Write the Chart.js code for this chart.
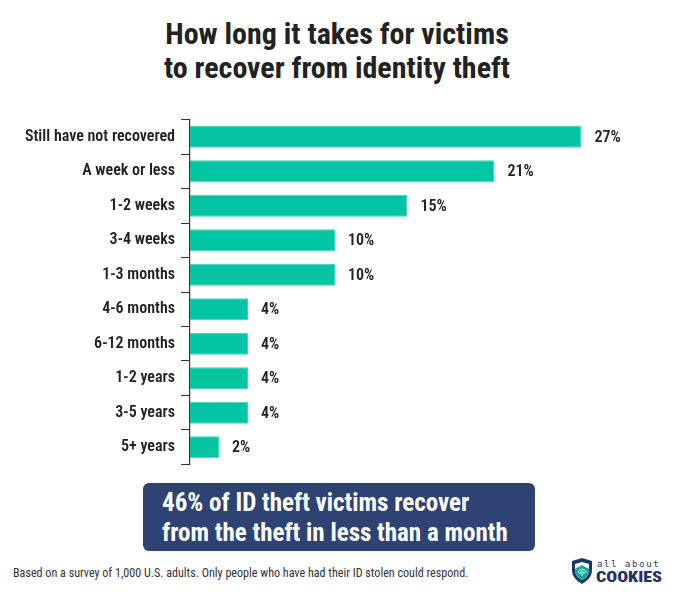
<!DOCTYPE html>
<html>
<head>
<meta charset="utf-8">
<script src="https://cdn.jsdelivr.net/npm/chart.js@4/dist/chart.umd.min.js"></script>
<style>
  html, body { margin: 0; padding: 0; background: #fff; }
  body { width: 680px; height: 600px; position: relative; overflow: hidden;
         font-family: "Roboto Condensed", "Liberation Sans Narrow", "DejaVu Sans Condensed", Roboto, sans-serif; font-stretch: condensed; }
  .title { position: absolute; left: 0; top: 17px; width: 674px; text-align: center;
           font-size: 30px; font-weight: 700; color: #222; line-height: 34px; }
  .wrap { position: absolute; left: 0; top: 104px; width: 680px; height: 376px; }
  .callout { position: absolute; left: 143px; top: 483px; width: 392px; height: 68px; box-sizing: border-box;
             background: #2e4373; border-radius: 6px; color: #fff; font-weight: 700; font-size: 25px;
             line-height: 30px; padding: 5px 0 0 19px; }
  .note { position: absolute; left: 13px; top: 566px; font-size: 12.1px; color: #333; }
  .logo { position: absolute; left: 571px; top: 557px; }
</style>
</head>
<body>
<div class="title">How long it takes for victims<br>to recover from identity theft</div>
<div class="wrap"><canvas id="chart"></canvas></div>
<div class="callout">46% of ID theft victims recover<br>from the theft in less than a month</div>
<div class="note">Based on a survey of 1,000 U.S. adults. Only people who have had their ID stolen could respond.</div>
<svg class="logo" width="95" height="30" viewBox="0 0 95 30">
  <path d="M11 1 L21 4 L21 13 C21 20 16 24 11 27 C6 24 1 20 1 13 L1 4 Z" fill="#1f3466"/>
  <path d="M11 5 L18 7 L18 13 C18 18 15 21 11 23 C7 21 4 18 4 13 L4 7 Z" fill="#fff"/>
  <path d="M4 12 L11 8 L18 12 L18 13 C18 18 15 21 11 23 C7 21 4 18 4 13 Z" fill="#0fa99a"/>
  <path d="M7 16 C7 11 15 11 15 16 M9 17 C9 13 13 13 13 17 M11 15 L11 19" stroke="#fff" stroke-width="0.9" fill="none"/>
  <text x="26" y="10" font-family="DejaVu Sans Mono, monospace" font-size="9" letter-spacing="1.6" fill="#1f3466">all about</text>
  <text x="25" y="25" font-family="Roboto, sans-serif" font-weight="900" font-size="15.5" fill="#1f3466" textLength="66" lengthAdjust="spacingAndGlyphs">COOKIES</text>
</svg>
<script>
const categories = ['Still have not recovered', 'A week or less', '1-2 weeks', '3-4 weeks', '1-3 months',
                    '4-6 months', '6-12 months', '1-2 years', '3-5 years', '5+ years'];
const shares = [27, 21, 15, 10, 10, 4, 4, 4, 4, 2];
const valueLabels = ['27%', '21%', '15%', '10%', '10%', '4%', '4%', '4%', '4%', '2%'];

const fontFamily = '"Roboto Condensed", "Liberation Sans Narrow", "DejaVu Sans Condensed", Roboto, sans-serif';

// writes the percentage just right of each bar
const barLabels = {
  id: 'barLabels',
  afterDatasetsDraw(chart) {
    const ctx = chart.ctx;
    const meta = chart.getDatasetMeta(0);
    ctx.save();
    ctx.font = '600 16px ' + fontFamily;
    ctx.fillStyle = '#222';
    ctx.textBaseline = 'middle';
    meta.data.forEach((bar, i) => {
      ctx.fillText(valueLabels[i], bar.x + 13, bar.y + 1);
    });
    ctx.restore();
  }
};

new Chart(document.getElementById('chart'), {
  type: 'bar',
  data: {
    labels: categories,
    datasets: [{
      data: shares,
      backgroundColor: '#04c5a3',
      borderColor: '#3dd2b6',
      borderWidth: 1,
      barPercentage: 0.64,
      categoryPercentage: 1
    }]
  },
  options: {
    indexAxis: 'y',
    responsive: true,
    maintainAspectRatio: false,
    animation: false,
    layout: { padding: { top: 4, bottom: 2, left: 0, right: 0 } },
    scales: {
      x: { display: false, min: 0, max: 33.8 },
      y: {
        afterFit(scale) { scale.width = 190; },
        border: { display: true, color: '#333', width: 1.2 },
        grid: { drawOnChartArea: false, tickLength: 9, color: '#333' },
        ticks: { padding: 6, color: '#222', font: { family: fontFamily, size: 16, weight: '600' } }
      }
    },
    plugins: { legend: { display: false }, tooltip: { enabled: false } }
  },
  plugins: [barLabels]
});
</script>
</body>
</html>
